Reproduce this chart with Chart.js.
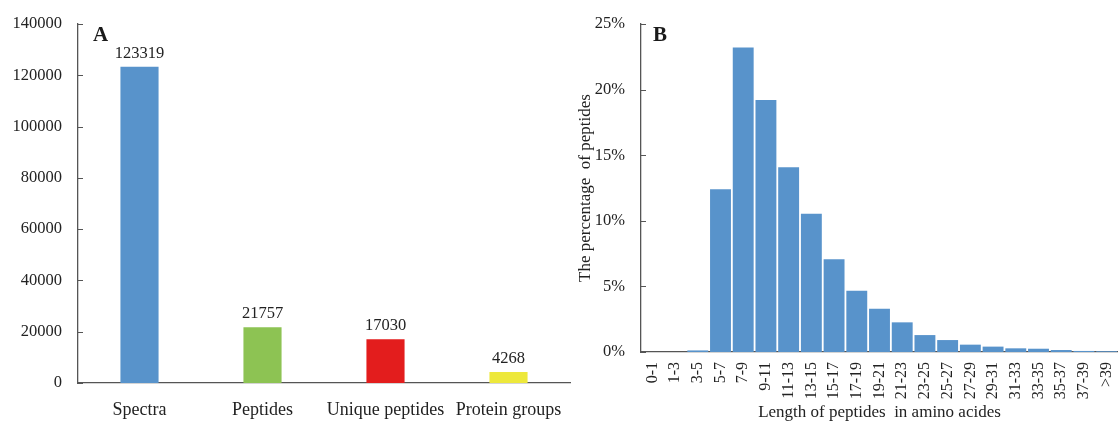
<!DOCTYPE html>
<html>
<head>
<meta charset="utf-8">
<script src="https://cdn.jsdelivr.net/npm/chart.js@4"></script>
<style>
  html, body { margin: 0; padding: 0; background: #fff; }
  #wrap { position: relative; width: 1118px; height: 423px; overflow: hidden; }
  #chartA { position: absolute; left: 0; top: 0; }
  #chartB { position: absolute; left: 575px; top: 0; }
</style>
</head>
<body>
<div id="wrap">
  <canvas id="chartA" width="575" height="423"></canvas>
  <canvas id="chartB" width="543" height="423"></canvas>
</div>
<script>
// Panel A: identification summary
const summaryCategories = ['Spectra', 'Peptides', 'Unique peptides', 'Protein groups'];
const summaryCounts = [123319, 21757, 17030, 4268];
const summaryColors = ['#5893cb', '#8dc353', '#e31d1d', '#ede83b'];
const summaryTicks = [0, 20000, 40000, 60000, 80000, 100000, 120000, 140000];

// Panel B: peptide length distribution (percent of peptides)
const lengthBins = ['0-1', '1-3', '3-5', '5-7', '7-9', '9-11', '11-13', '13-15', '15-17', '17-19',
  '19-21', '21-23', '23-25', '25-27', '27-29', '29-31', '31-33', '33-35', '35-37', '37-39', '>39'];
const lengthPercent = [0, 0, 0.12, 12.4, 23.2, 19.2, 14.08, 10.54, 7.07, 4.66,
  3.29, 2.26, 1.29, 0.91, 0.56, 0.41, 0.28, 0.25, 0.15, 0.08, 0.06];
const percentTicks = [0, 5, 10, 15, 20, 25];

const SERIF = '"Liberation Serif", "DejaVu Serif", serif';
const AXIS_COLOR = '#555555';
const TEXT_COLOR = '#222222';

// short tick marks pointing into the plot area on the y axis
const innerTicks = {
  id: 'innerTicks',
  afterDraw(chart) {
    const { ctx, chartArea } = chart;
    const y = chart.scales.y;
    ctx.save();
    ctx.strokeStyle = AXIS_COLOR;
    ctx.lineWidth = 1;
    y.ticks.forEach((t, i) => {
      const py = Math.round(y.getPixelForTick(i)) + 0.5;
      ctx.beginPath();
      ctx.moveTo(chartArea.left, py);
      ctx.lineTo(chartArea.left + 5, py);
      ctx.stroke();
    });
    ctx.restore();
  }
};

// panel letter in the top-left corner of the plot
const panelLetter = {
  id: 'panelLetter',
  afterDraw(chart, args, opts) {
    const { ctx, chartArea } = chart;
    ctx.save();
    ctx.font = 'bold 21px ' + SERIF;
    ctx.fillStyle = '#1a1a1a';
    ctx.textBaseline = 'top';
    ctx.textAlign = 'left';
    ctx.fillText(opts.text, chartArea.left + opts.dx, chartArea.top + opts.dy);
    ctx.restore();
  }
};

// count printed above each bar
const valueLabels = {
  id: 'valueLabels',
  afterDatasetsDraw(chart) {
    const { ctx } = chart;
    const meta = chart.getDatasetMeta(0);
    const data = chart.data.datasets[0].data;
    ctx.save();
    ctx.font = '16.5px ' + SERIF;
    ctx.fillStyle = TEXT_COLOR;
    ctx.textAlign = 'center';
    ctx.textBaseline = 'bottom';
    meta.data.forEach((bar, i) => {
      ctx.fillText(String(data[i]), bar.x, bar.y - 5);
    });
    ctx.restore();
  }
};

Chart.defaults.font.family = SERIF;
Chart.defaults.color = TEXT_COLOR;

new Chart(document.getElementById('chartA'), {
  type: 'bar',
  data: {
    labels: summaryCategories,
    datasets: [{
      data: summaryCounts,
      backgroundColor: summaryColors,
      barPercentage: 0.31,
      categoryPercentage: 1
    }]
  },
  options: {
    responsive: false,
    animation: false,
    layout: { padding: { top: 24, right: 5, left: 0, bottom: 0 } },
    plugins: {
      legend: { display: false },
      tooltip: { enabled: false },
      panelLetter: { text: 'A', dx: 15, dy: 1 }
    },
    scales: {
      x: {
        grid: { display: false },
        border: { display: true, color: AXIS_COLOR, width: 1.3 },
        ticks: { font: { size: 18 }, padding: 8, color: TEXT_COLOR, maxRotation: 0 },
        afterFit(s) { s.height = 40; s.paddingLeft = 0; s.paddingRight = 0; }
      },
      y: {
        min: 0, max: 140000,
        grid: { display: false },
        border: { display: true, color: AXIS_COLOR, width: 1.3 },
        afterBuildTicks(s) { s.ticks = summaryTicks.map(v => ({ value: v })); },
        ticks: { font: { size: 16.5 }, padding: 8, color: TEXT_COLOR, callback: v => String(v) },
        afterFit(s) { s.width = 78; }
      }
    }
  },
  plugins: [innerTicks, panelLetter, valueLabels]
});

new Chart(document.getElementById('chartB'), {
  type: 'bar',
  data: {
    labels: lengthBins,
    datasets: [{
      data: lengthPercent,
      backgroundColor: '#5893cb',
      barPercentage: 0.92,
      categoryPercentage: 1
    }]
  },
  options: {
    responsive: false,
    animation: false,
    layout: { padding: { top: 24, right: 0, left: 0, bottom: 0 } },
    plugins: {
      legend: { display: false },
      tooltip: { enabled: false },
      panelLetter: { text: 'B', dx: 12, dy: 1 }
    },
    scales: {
      x: {
        grid: { display: false },
        border: { display: true, color: AXIS_COLOR, width: 1.3 },
        ticks: { font: { size: 16 }, padding: 2, color: TEXT_COLOR, minRotation: 90, maxRotation: 90, autoSkip: false },
        title: { display: true, text: 'Length of peptides  in amino acides', font: { size: 17 }, color: TEXT_COLOR, padding: { top: 0, bottom: 0 } },
        afterFit(s) { s.height = 71; s.paddingLeft = 0; s.paddingRight = 0; }
      },
      y: {
        min: 0, max: 25,
        grid: { display: false },
        border: { display: true, color: AXIS_COLOR, width: 1.3 },
        afterBuildTicks(s) { s.ticks = percentTicks.map(v => ({ value: v })); },
        ticks: { font: { size: 16.5 }, padding: 8, color: TEXT_COLOR, callback: v => v + '%' },
        title: { display: true, text: 'The percentage  of peptides', font: { size: 17 }, color: TEXT_COLOR, padding: { top: 0, bottom: 0 } },
        afterFit(s) { s.width = 66; }
      }
    }
  },
  plugins: [innerTicks, panelLetter]
});
</script>
</body>
</html>
